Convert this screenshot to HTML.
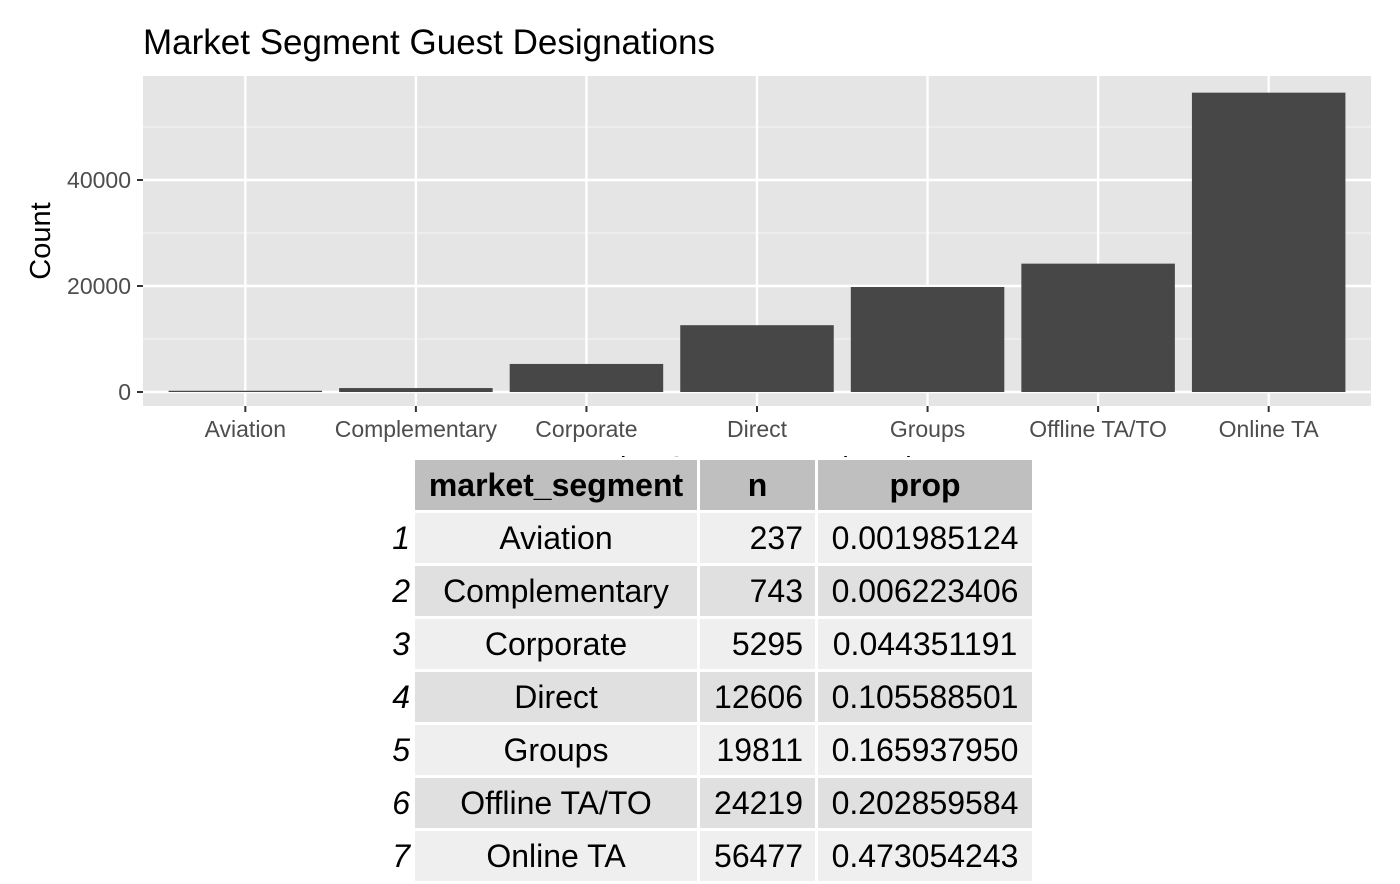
<!DOCTYPE html>
<html><head><meta charset="utf-8"><style>
body{margin:0;background:#fff;width:1400px;height:865px;overflow:hidden;position:relative;font-family:"Liberation Sans",Arial,sans-serif}
#tbl{position:absolute;left:357px;top:457px;border-collapse:separate;border-spacing:3px;background:#fff;font-size:32px;color:#000;table-layout:fixed}
#tbl td,#tbl th{height:50px;padding:0 12px;text-align:center;white-space:nowrap;overflow:hidden}
#tbl th{background:#bfbfbf;font-weight:bold}
#tbl td.rn{background:#fff;text-align:right;font-style:italic;padding:0 2px 0 0;width:50px}
#tbl td.num{text-align:right}
</style></head><body>
<svg id="chart" width="1400" height="460" style="position:absolute;left:0;top:0"></svg>
<table id="tbl">
<tr><td class="rn" style="background:#fff"></td><th style="width:258px">market_segment</th><th style="width:91px">n</th><th style="width:190px">prop</th></tr>
<tr><td class="rn">1</td><td style="background:#efefef">Aviation</td><td class="num" style="background:#efefef">237</td><td style="background:#efefef">0.001985124</td></tr>
<tr><td class="rn">2</td><td style="background:#e0e0e0">Complementary</td><td class="num" style="background:#e0e0e0">743</td><td style="background:#e0e0e0">0.006223406</td></tr>
<tr><td class="rn">3</td><td style="background:#efefef">Corporate</td><td class="num" style="background:#efefef">5295</td><td style="background:#efefef">0.044351191</td></tr>
<tr><td class="rn">4</td><td style="background:#e0e0e0">Direct</td><td class="num" style="background:#e0e0e0">12606</td><td style="background:#e0e0e0">0.105588501</td></tr>
<tr><td class="rn">5</td><td style="background:#efefef">Groups</td><td class="num" style="background:#efefef">19811</td><td style="background:#efefef">0.165937950</td></tr>
<tr><td class="rn">6</td><td style="background:#e0e0e0">Offline TA/TO</td><td class="num" style="background:#e0e0e0">24219</td><td style="background:#e0e0e0">0.202859584</td></tr>
<tr><td class="rn">7</td><td style="background:#efefef">Online TA</td><td class="num" style="background:#efefef">56477</td><td style="background:#efefef">0.473054243</td></tr>
</table>
<script>
const categories=["Aviation","Complementary","Corporate","Direct","Groups","Offline TA/TO","Online TA"];
const counts=[237,743,5295,12606,19811,24219,56477];
const yTicks=[0,20000,40000];
const NS="http://www.w3.org/2000/svg";
const svg=document.getElementById('chart');
const L=143,R=1371,T=76,B=406;
const y=v=>392-v*(212/40000);
const step=(R-L)/(categories.length+0.2);
const x=i=>L+step*(0.6+i);
function mk(t,a,p){const e=document.createElementNS(NS,t);for(const k in a)e.setAttribute(k,a[k]);(p||svg).appendChild(e);return e;}
const bg=mk('rect',{x:L,y:T,width:R-L,height:B-T,fill:'#e5e5e5'});


for(let i=0;i<yTicks.length-1;i++){const m=(yTicks[i]+yTicks[i+1])/2;mk('line',{x1:L,x2:R,y1:y(m),y2:y(m),stroke:'#f2f2f2','stroke-width':1.2});}
mk('line',{x1:L,x2:R,y1:y(50000),y2:y(50000),stroke:'#f2f2f2','stroke-width':1.2});
yTicks.forEach(v=>{mk('line',{x1:L,x2:R,y1:y(v),y2:y(v),stroke:'#fff','stroke-width':2.4});
mk('line',{x1:L-6,x2:L,y1:y(v),y2:y(v),stroke:'#333','stroke-width':2});
const t=mk('text',{x:L-12,y:y(v)+8,'text-anchor':'end','font-size':23,fill:'#4d4d4d'});t.textContent=v;

});
categories.forEach((c,i)=>{mk('line',{x1:x(i),x2:x(i),y1:T,y2:B,stroke:'#fff','stroke-width':2.4});});
categories.forEach((c,i)=>{const w=step*0.9;
const r=mk('rect',{x:x(i)-w/2,y:y(counts[i]),width:w,height:y(0)-y(counts[i]),fill:'#474747'});


mk('line',{x1:x(i),x2:x(i),y1:B,y2:B+6,stroke:'#333','stroke-width':2});
const t=mk('text',{x:x(i),y:B+31,'text-anchor':'middle','font-size':23,fill:'#4d4d4d'});t.textContent=c;

});
const ti=mk('text',{x:143,y:54,'font-size':35,fill:'#000'});ti.textContent='Market Segment Guest Designations';


const yt=mk('text',{x:0,y:0,'font-size':29,fill:'#000','text-anchor':'middle',transform:'translate(50,241) rotate(-90)'});yt.textContent='Count';


const xt=mk('text',{x:757,y:477,'font-size':29,fill:'#000','text-anchor':'middle'});xt.textContent='Market Segment Designation';


</script>
</body></html>
